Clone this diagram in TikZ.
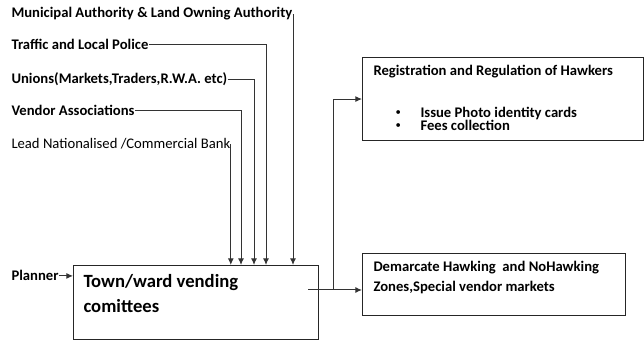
\documentclass[tikz,border=0pt]{standalone}
\usepackage{fontspec}
\setmainfont{Carlito}
\usetikzlibrary{arrows.meta}

\begin{document}
\begin{tikzpicture}[x=0.75pt,y=-0.75pt,->,>={Latex[length=5pt,width=4.5pt]},line width=0.75pt,draw=black!80,
  src node/.style={anchor=base west,inner sep=0pt,font=\fontsize{11}{13}\selectfont\bfseries},
  big node/.style={anchor=base west,inner sep=0pt,font=\fontsize{14}{17}\selectfont\bfseries},
  box node/.style={draw=black!85,line width=0.8pt,anchor=north west,inner sep=0pt}]

  \useasboundingbox (0,0) rectangle (644,341);

  % sources
  \node[src node] (muni) at (11,18) {Municipal Authority \& Land Owning Authority};
  \node[src node] (police) at (11,50) {Traffic and Local Police};
  \node[src node] (unions) at (11,84) {Unions(Markets,Traders,R.W.A. etc)};
  \node[src node] (vendor) at (11,116) {Vendor Associations};
  \node[src node,font=\fontsize{11}{13}\selectfont] (bank) at (11,149) {Lead Nationalised /Commercial Bank};
  \node[src node] (planner) at (11,281) {Planner};

  % boxes
  \node[box node,minimum width=183.75pt,minimum height=55.5pt] (town) at (73,265) {};
  \node[big node] (town1) at (83,288) {Town/ward vending};
  \node[big node] (town2) at (83,313) {comittees};

  \node[box node,minimum width=210.75pt,minimum height=62.25pt] (reg) at (362,57) {};
  \node[src node] (reg1) at (373,76) {Registration and Regulation of Hawkers};
  \node[src node,font=\fontsize{8}{10}\selectfont] (dot1) at (395,116) {\textbullet};
  \node[src node] (reg2) at (420,118) {Issue Photo identity cards};
  \node[src node,font=\fontsize{8}{10}\selectfont] (dot2) at (395,129) {\textbullet};
  \node[src node] (reg3) at (420,131) {Fees collection};

  \node[box node,minimum width=197.25pt,minimum height=46.5pt] (dem) at (362,253) {};
  \node[src node] (dem1) at (373,272) {Demarcate Hawking\ \ and NoHawking};
  \node[src node] (dem2) at (373,292) {Zones,Special vendor markets};

  % inputs on the committee box
  \coordinate (in2) at (241,265);
  \coordinate (in3) at (254,265);
  \coordinate (in4) at (266,265);
  \coordinate (in5) at (293,265);

  \draw (muni.east) -| (in5);
  \draw (police.east) -| (in4);
  \draw (unions.east) -| (in3);
  \draw (vendor.east) -| (in2);
  \draw (bank.east) -- (bank.east |- town.north);
  \draw (planner.east) -- (planner.east -| town.west);

  % outputs
  \coordinate (out) at (308,290);
  \coordinate (split) at (333,290);
  \draw (out) -- (out -| dem.west);
  \draw (split) |- (reg.west);

\end{tikzpicture}
\end{document}
